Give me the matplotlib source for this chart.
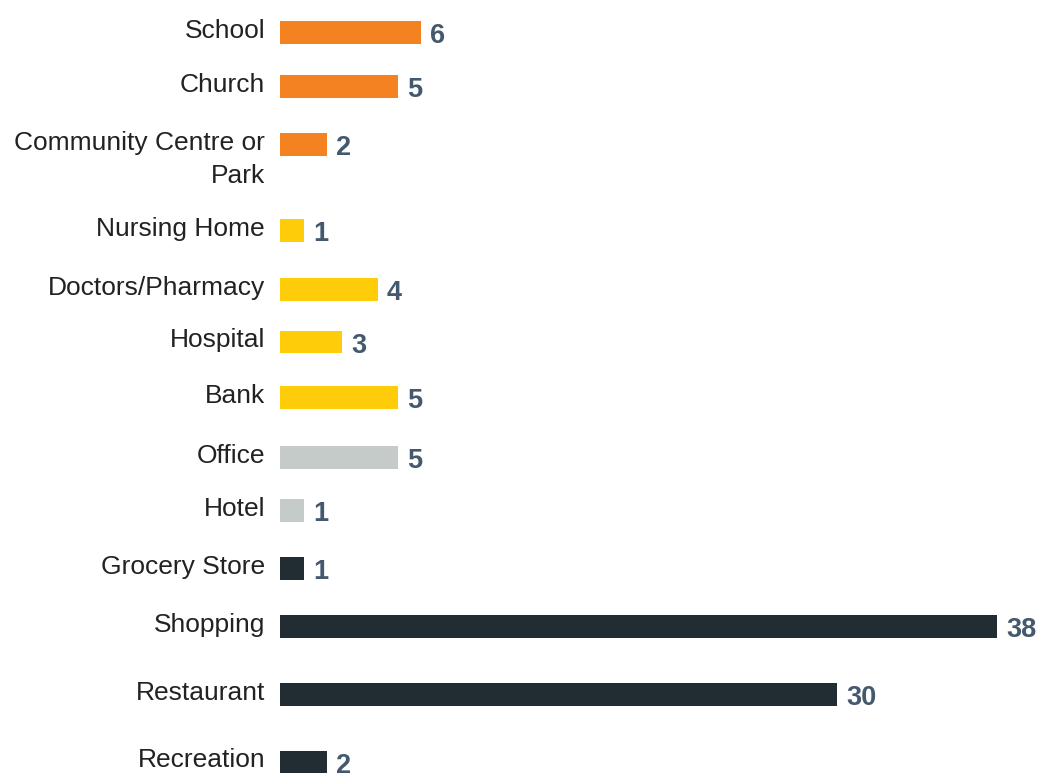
import numpy as np
import matplotlib
matplotlib.use("Agg")
import matplotlib.pyplot as plt

plt.rcParams['font.family'] = ['Liberation Sans', 'DejaVu Sans']

categories = ["School", "Church", "Community Centre or\nPark", "Nursing Home",
              "Doctors/Pharmacy", "Hospital", "Bank", "Office", "Hotel",
              "Grocery Store", "Shopping", "Restaurant", "Recreation"]
counts = [6, 5, 2, 1, 4, 3, 5, 5, 1, 1, 38, 30, 2]
# bar lengths as drawn in the picture (not always equal to the printed value)
bar_len = [6, 5, 2, 1, 4.15, 2.63, 5, 5, 1, 1, 30.5, 23.7, 2]
groups = ["civic", "civic", "civic", "service", "service", "service", "service",
          "work", "work", "retail", "retail", "retail", "retail"]

group_colors = {"civic": "#F58220", "service": "#FFCC0A",
                "work": "#C5CBC9", "retail": "#222C33"}

# uneven row spacing of the original layout (in row units)
row_gaps = [0, 0.9, 0.97, 1.43, 0.98, 0.88, 0.92, 1.0, 0.89, 0.96, 0.97, 1.13, 1.13]
ypos = np.cumsum(row_gaps)

fig = plt.figure(figsize=(10.4, 7.74), dpi=100)
ax = fig.add_axes([280 / 1040, 0, 760 / 1040, 1])

colors = [group_colors[g] for g in groups]
ax.barh(ypos, bar_len, height=0.378, color=colors, left=0)

ax.set_xlim(0, 760 / 23.5)
ax.set_ylim(12.358, -0.5417)
ax.axis('off')

line_gap = 33 * 72 / 100  # distance between wrapped label lines, in points

for y, lab, n, w in zip(ypos, categories, counts, bar_len):
    lines = lab.split("\n")
    for k, line in enumerate(lines):
        ax.annotate(line, xy=(0, y), xytext=(-10.8, -3.8 - k * line_gap),
                    textcoords='offset points', ha='right', va='baseline',
                    fontsize=19, color='#222222', annotation_clip=False)
    ax.annotate(str(n), xy=(w, y), xytext=(6.8, -7.6), textcoords='offset points',
                ha='left', va='baseline', fontsize=19.5, fontweight='bold',
                color='#44596E', annotation_clip=False)

fig.savefig("out.png", dpi=100)
